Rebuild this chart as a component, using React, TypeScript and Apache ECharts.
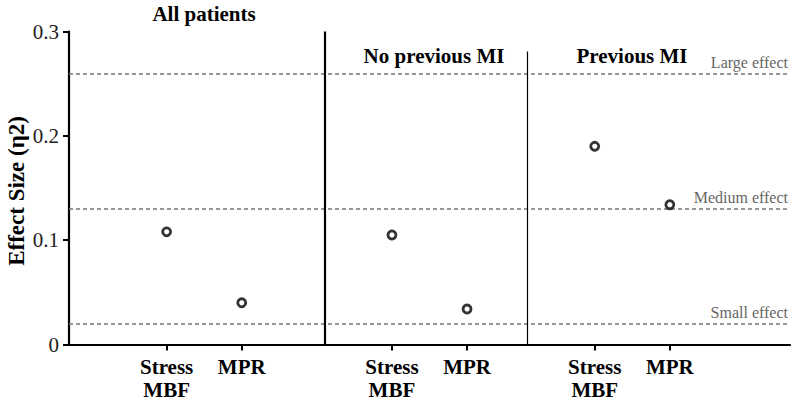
import React, { useEffect, useRef } from "react";
import * as echarts from "echarts";

// ---- Data ----
const groupTitles = ["All patients", "No previous MI", "Previous MI"];
const measureLabels = ["Stress\nMBF", "MPR"];
const stressMBF = [0.108, 0.105, 0.19];
const mpr = [0.04, 0.034, 0.134];
const xPositions = [1.3, 2.3, 4.3, 5.3, 7.0, 8.0];
const effectValues = [0.02, 0.13, 0.26];
const effectLabels = ["Small effect", "Medium effect", "Large effect"];
const dividerX = [3.4, 6.1];
const dividerTop = [0.3, 0.281];
const yTicks = [0, 0.1, 0.2, 0.3];
const yAxisTitle = "Effect Size (η2)";

const FONT = "Times New Roman, Liberation Serif, serif";

export default function App() {
  const ref = useRef<HTMLDivElement>(null);

  useEffect(() => {
    if (!ref.current) return;
    const chart = echarts.init(ref.current, null, { renderer: "svg" });

    const points: number[][] = [];
    const tickLabels: Record<string, string> = {};
    for (let g = 0; g < groupTitles.length; g++) {
      const xs = xPositions[g * 2];
      const xm = xPositions[g * 2 + 1];
      points.push([xs, stressMBF[g]]);
      points.push([xm, mpr[g]]);
      tickLabels[String(xs)] = measureLabels[0];
      tickLabels[String(xm)] = measureLabels[1];
    }

    const titleCenters = [
      { x: 204, y: 14 },
      { x: 434, y: 56 },
      { x: 632, y: 56 },
    ];

    const txt = (extra: any) => ({ fontFamily: FONT, ...extra });

    const option: any = {
      animation: false,
      backgroundColor: "#ffffff",
      textStyle: { fontFamily: FONT },
      grid: {
        left: 69,
        right: 3,
        top: 31.6,
        bottom: 60.5,
        containLabel: false,
        outerBoundsMode: "none",
      },
      xAxis: {
        type: "value",
        min: 0,
        max: 9.6,
        splitLine: { show: false },
        axisLine: { show: true, onZero: false, lineStyle: { color: "#000", width: 2.2 } },
        axisTick: {
          show: true,
          customValues: xPositions,
          length: 6,
          lineStyle: { color: "#000", width: 2 },
        },
        axisLabel: {
          show: true,
          customValues: xPositions,
          formatter: (v: number) => tickLabels[String(v)] ?? "",
          ...txt({ fontWeight: "bold", fontSize: 21, lineHeight: 23, color: "#000" }),
          margin: 11,
        },
      },
      yAxis: {
        type: "value",
        min: 0,
        max: 0.3,
        interval: 0.1,
        splitLine: { show: false },
        axisLine: { show: true, lineStyle: { color: "#000", width: 2.2 } },
        axisTick: { show: true, length: 6, lineStyle: { color: "#000", width: 2 } },
        axisLabel: {
          ...txt({ fontSize: 21, color: "#222" }),
          margin: 10,
          formatter: (v: number) => {
            const t = yTicks.find((y) => Math.abs(y - v) < 1e-9);
            if (t === undefined) return "";
            return t === 0 ? "0" : t.toFixed(1);
          },
        },
      },
      graphic: [
        ...groupTitles.map((t, i) => ({
          type: "text",
          x: titleCenters[i].x,
          y: titleCenters[i].y,
          style: {
            text: t,
            font: "bold 21px " + FONT,
            fill: "#000",
            textAlign: "center",
            textVerticalAlign: "middle",
          },
        })),
        {
          type: "text",
          x: 16,
          y: 191,
          rotation: Math.PI / 2,
          style: {
            text: yAxisTitle,
            font: "bold 23px " + FONT,
            fill: "#000",
            textAlign: "center",
            textVerticalAlign: "middle",
          },
        },
      ],
      series: [
        {
          type: "scatter",
          data: [],
          z: 1,
          silent: true,
          markLine: {
            silent: true,
            symbol: "none",
            animation: false,
            data: [
              ...effectValues.map((v, i) => ({
                yAxis: v,
                lineStyle: { color: "#777", width: 1.6, type: [4, 3] },
                label: {
                  show: true,
                  formatter: effectLabels[i],
                  position: "insideEndTop",
                  ...txt({ fontSize: 16, color: "#666" }),
                  distance: [2, 3],
                },
              })),
              ...dividerX.map((x, i) => [
                {
                  coord: [x, 0],
                  lineStyle: { color: "#000", width: i === 0 ? 2.2 : 1.2, type: "solid" },
                  label: { show: false },
                },
                { coord: [x, dividerTop[i]] },
              ]),
            ],
          },
        },
        {
          type: "scatter",
          z: 5,
          data: points,
          symbol: "circle",
          symbolSize: 8,
          itemStyle: { color: "#fff", borderColor: "#000", borderWidth: 2.8 },
        },
      ],
    };

    chart.setOption(option);
    return () => chart.dispose();
  }, []);

  return (
    <div
      ref={ref}
      style={{ position: "fixed", left: 0, top: 0, width: 793, height: 405, background: "#fff" }}
    />
  );
}
